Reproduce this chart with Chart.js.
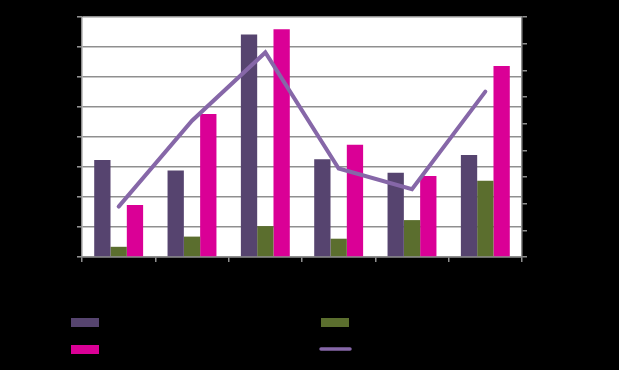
<!DOCTYPE html>
<html>
<head>
<meta charset="utf-8">
<script src="https://cdn.jsdelivr.net/npm/chart.js@4/dist/chart.umd.min.js"></script>
<style>
  html, body { margin: 0; padding: 0; background: #000; }
  canvas { display: block; }
</style>
</head>
<body>
<canvas id="c" width="619" height="370"></canvas>
<script>
// Data
const categories = ["1", "2", "3", "4", "5", "6"];
const seriesNames = ["Series 1", "Series 2", "Series 3", "Series 4"];
const series1 = [32.3, 28.8, 74.2, 32.6, 28.1, 34.0];   // dark purple bars (left axis)
const series2 = [3.4, 6.8, 10.3, 6.1, 12.3, 25.4];      // green bars (left axis)
const series3 = [17.3, 47.7, 75.9, 37.4, 27.0, 63.7];   // magenta bars (left axis)
const series4 = [18.9, 51.1, 76.7, 33.2, 25.4, 62.0];   // purple line (right axis)

const C_PURPLE = '#56446F', C_GREEN = '#5B6E2E', C_PINK = '#DA0096', C_LINE = '#8667A8';
const GRID = '#8f8f8f';

const bgPlugin = {
  id: 'bg',
  beforeDraw(chart) {
    const ctx = chart.ctx, a = chart.chartArea;
    ctx.save();
    ctx.fillStyle = '#000';
    ctx.fillRect(0, 0, chart.width, chart.height);
    ctx.fillStyle = '#fff';
    ctx.fillRect(a.left, a.top, a.right - a.left, a.bottom - a.top);
    ctx.restore();
  }
};

const legendPlugin = {
  id: 'customLegend',
  afterDraw(chart) {
    const ctx = chart.ctx;
    const items = [
      { ds: 0, x: 71, y: 318, kind: 'box' },
      { ds: 1, x: 321, y: 318, kind: 'box' },
      { ds: 2, x: 71, y: 345, kind: 'box' },
      { ds: 3, x: 321, y: 345, kind: 'line' }
    ];
    ctx.save();
    items.forEach(it => {
      const ds = chart.data.datasets[it.ds];
      if (it.kind === 'box') {
        ctx.fillStyle = ds.backgroundColor;
        ctx.fillRect(it.x, it.y, 28, 9);
      } else {
        ctx.strokeStyle = ds.borderColor;
        ctx.lineWidth = 3.5;
        ctx.lineCap = 'round';
        ctx.beginPath();
        ctx.moveTo(it.x, it.y + 4);
        ctx.lineTo(it.x + 29, it.y + 4);
        ctx.stroke();
      }
      ctx.fillStyle = '#000';
      ctx.font = '11px "Liberation Sans", Arial, sans-serif';
      ctx.textBaseline = 'middle';
      ctx.fillText(ds.label, it.x + 36, it.y + 4.5);
    });
    ctx.restore();
  }
};

new Chart(document.getElementById('c'), {
  type: 'bar',
  data: {
    labels: categories,
    datasets: [
      { label: seriesNames[0], data: series1, backgroundColor: C_PURPLE, yAxisID: 'y', order: 1 },
      { label: seriesNames[1], data: series2, backgroundColor: C_GREEN, yAxisID: 'y', order: 1 },
      { label: seriesNames[2], data: series3, backgroundColor: C_PINK, yAxisID: 'y', order: 1 },
      { label: seriesNames[3], data: series4, type: 'line', borderColor: C_LINE, backgroundColor: C_LINE,
        borderWidth: 4, pointRadius: 0, tension: 0, yAxisID: 'y1', order: 0, borderCapStyle: 'round' }
    ]
  },
  options: {
    responsive: false,
    animation: false,
    events: [],
    layout: { padding: { top: 17, left: 0, right: 0, bottom: 0 } },
    datasets: { bar: { categoryPercentage: 0.667, barPercentage: 1.0 } },
    plugins: { legend: { display: false }, tooltip: { enabled: false } },
    scales: {
      x: {
        offset: true,
        ticks: { display: false },
        grid: { offset: true, drawOnChartArea: false, drawTicks: true, tickLength: 5, color: GRID, lineWidth: 1.5 },
        border: { display: true, color: GRID, width: 1.5 },
        afterFit(s) { s.height = 113; }
      },
      y: {
        position: 'left',
        min: 0, max: 80,
        ticks: { display: false, stepSize: 10 },
        grid: { color: GRID, lineWidth: 1.6, tickLength: 5, drawTicks: true },
        border: { display: true, color: GRID, width: 1.5 },
        afterFit(s) { s.width = 82; }
      },
      y1: {
        position: 'right',
        min: 0, max: 90,
        ticks: { display: false, stepSize: 10 },
        grid: { drawOnChartArea: false, color: GRID, tickLength: 5, drawTicks: true, lineWidth: 1.5 },
        border: { display: true, color: GRID, width: 1.5 },
        afterFit(s) { s.width = 97; }
      }
    }
  },
  plugins: [bgPlugin, legendPlugin]
});
</script>
</body>
</html>
